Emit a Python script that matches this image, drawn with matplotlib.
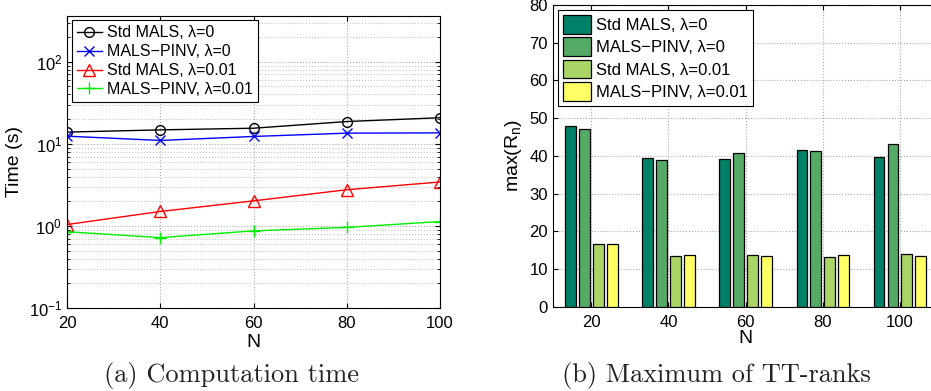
import numpy as np
import matplotlib
matplotlib.use("Agg")
import matplotlib.pyplot as plt

plt.rcParams['font.family'] = ['Liberation Sans', 'DejaVu Sans']
plt.rcParams['mathtext.fontset'] = 'custom'
plt.rcParams['mathtext.rm'] = 'Liberation Sans'

N = [20, 40, 60, 80, 100]
labels = ['Std MALS, \u03bb=0', 'MALS\u2212PINV, \u03bb=0',
          'Std MALS, \u03bb=0.01', 'MALS\u2212PINV, \u03bb=0.01']

# computation time (s)
t_std0 = [13.9, 14.8, 15.5, 18.7, 20.8]
t_pinv0 = [12.4, 11.0, 12.3, 13.5, 13.6]
t_std1 = [1.04, 1.5, 2.02, 2.76, 3.43]
t_pinv1 = [0.85, 0.72, 0.87, 0.96, 1.13]

# maximum TT-rank
r_std0 = [47.8, 39.4, 39.1, 41.4, 39.8]
r_pinv0 = [47.2, 38.75, 40.7, 41.3, 43.2]
r_std1 = [16.6, 13.4, 13.6, 13.1, 13.9]
r_pinv1 = [16.7, 13.7, 13.5, 13.8, 13.4]

bar_colors = ['#008066', '#55aa66', '#aad466', '#ffff66']

fig = plt.figure(figsize=(9.31, 3.91), dpi=100)

# ---- (a) time, log scale
ax1 = fig.add_axes([0.072, 0.2123, 0.4006, 0.748])
ax1.plot(N, t_std0, '-o', color='k', mfc='none', ms=7, lw=1, label=labels[0])
ax1.plot(N, t_pinv0, '-x', color='b', ms=7, lw=1, label=labels[1])
ax1.plot(N, t_std1, '-^', color='r', mfc='none', ms=8, lw=1, label=labels[2])
ax1.plot(N, t_pinv1, '-+', color='#00ee00', ms=9, lw=1, label=labels[3])
ax1.set_yscale('log')
ax1.set_xlim(20, 100)
ax1.set_ylim(0.1, 366)
ax1.set_xticks(N)
ax1.grid(True, which='major', ls=':', color='#aaaaaa', lw=0.8)
ax1.grid(True, which='minor', ls=':', color='#c4c4c4', lw=0.8)
ax1.tick_params(which='both', direction='in', top=True, right=True, labelsize=12)
ax1.tick_params(axis='x', pad=6)
ax1.set_xlabel('N', fontsize=14, labelpad=2)
ax1.set_ylabel('Time (s)', fontsize=14, labelpad=4)
leg1 = ax1.legend(loc='upper left', fontsize=11.5, handlelength=1.6, handletextpad=0.3,
                  borderpad=0.3, labelspacing=0.25, borderaxespad=0.3,
                  fancybox=False, framealpha=1, edgecolor='k')
leg1.get_frame().set_linewidth(0.8)

# ---- (b) grouped bars of max rank
ax2 = fig.add_axes([0.5937, 0.2156, 0.4143, 0.772])
x = np.arange(len(N))
step, width = 0.18, 0.14
for i, vals in enumerate([r_std0, r_pinv0, r_std1, r_pinv1]):
    ax2.bar(x + (i - 1.5) * step, vals, width, color=bar_colors[i],
            edgecolor='k', lw=0.9, label=labels[i], zorder=3)
ax2.set_xlim(-0.5, 4.5)
ax2.set_ylim(0, 80)
ax2.set_xticks(x)
ax2.set_xticklabels([str(n) for n in N])
ax2.set_yticks(range(0, 81, 10))
ax2.grid(True, ls=':', color='#aaaaaa', lw=0.8, zorder=0)
ax2.tick_params(direction='in', top=True, right=True, labelsize=12)
ax2.tick_params(axis='x', pad=6)
ax2.set_xlabel('N', fontsize=14, labelpad=0)
ax2.set_ylabel(r'max(R$_\mathregular{n}$)', fontsize=14, labelpad=4)
leg2 = ax2.legend(loc='upper left', fontsize=12, handlelength=1.7, handleheight=1.35,
                  handletextpad=0.3, borderpad=0.3, labelspacing=0.22, borderaxespad=0.3,
                  fancybox=False, framealpha=1, edgecolor='k')
leg2.get_frame().set_linewidth(0.8)

# captions
fig.text(0.249, 0.04, '(a) Computation time', family='cmr10', fontsize=19,
         ha='center', va='center', color='#222222')
fig.text(0.770, 0.04, '(b) Maximum of TT-ranks', family='cmr10', fontsize=19,
         ha='center', va='center', color='#222222')

fig.savefig('out.png', dpi=100)
